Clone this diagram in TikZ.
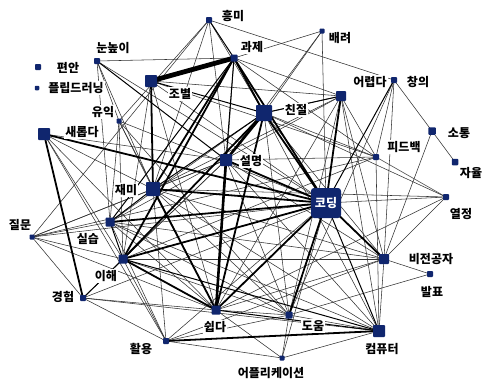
\documentclass[tikz,border=0pt]{standalone}
\usepackage{fontspec}
\newfontfamily\kr{Noto Sans CJK KR}
\begin{document}
\begin{tikzpicture}[x=1pt,y=-1pt,
  nd/.style={draw=none,fill=navy,rectangle,rounded corners=0.8pt,inner sep=0pt,minimum size=#1},
  lb/.style={font=\kr\bfseries\fontsize{12}{14}\selectfont,text=black,inner sep=1pt,fill=white},
  e0/.style={draw=black!80,line width=0.55pt},
  e1/.style={draw=black,line width=1pt},
  e2/.style={draw=black,line width=1.8pt},
  e3/.style={draw=black,line width=2.6pt},
  e4/.style={draw=black,line width=4.8pt}]
\definecolor{navy}{RGB}{16,38,110}
\useasboundingbox[fill=white] (0,0) rectangle (483,381);
% coordinates of nodes
\coordinate (hm) at (209,20);
\coordinate (gj) at (234,58);
\coordinate (br) at (322,31);
\coordinate (nn) at (97,61);
\coordinate (pa) at (38,67);
\coordinate (fl) at (37,88);
\coordinate (jb) at (151,81);
\coordinate (yi) at (119,121);
\coordinate (sr) at (44,134);
\coordinate (cj) at (264,113);
\coordinate (er) at (341,96);
\coordinate (cu) at (394,80);
\coordinate (st) at (432,131);
\coordinate (ja) at (455,162);
\coordinate (fb) at (376,157);
\coordinate (sm) at (226,160);
\coordinate (jm) at (153,189);
\coordinate (cd) at (326,203);
\coordinate (yj) at (446,197);
\coordinate (jq) at (32,237);
\coordinate (ss) at (110,222);
\coordinate (ih) at (123,259);
\coordinate (bj) at (384,259);
\coordinate (bp) at (430,274);
\coordinate (gh) at (83,298);
\coordinate (sd) at (216,310);
\coordinate (dw) at (289,315);
\coordinate (cp) at (379,331);
\coordinate (hy) at (166,341);
\coordinate (ap) at (282,358);
% thin edges
\foreach \a/\b in {hm/cu,hm/jq,hm/jm,hm/cj,hm/yi,hm/sm,gj/nn,gj/br,gj/er,gj/fb,gj/sd,br/cj,br/cd,br/sm,
  nn/cd,nn/jm,nn/ss,nn/yi,jb/cd,jb/sd,jb/er,jb/fb,jb/ih,yi/jm,yi/ss,yi/ih,yi/sd,yi/cd,yi/dw,
  sr/sm,sr/ih,sr/sd,sr/hy,sr/jm,cj/er,cj/fb,cj/bj,cj/cp,cj/ss,cj/yj,cj/dw,er/dw,er/fb,er/sd,er/jm,er/bj,er/ss,er/cp,
  cu/st,cu/fb,cu/bj,cu/dw,st/ja,st/bj,fb/jq,fb/sm,fb/yj,fb/cp,fb/ih,sm/jm,sm/dw,sm/gh,sm/ih,sm/cp,sm/bj,
  jm/dw,jm/cp,jm/jq,jm/bj,jm/hy,cd/yj,cd/ap,cd/hy,cd/gh,yj/bj,yj/jm,yj/sd,jq/ss,jq/ih,jq/sm,jq/sd,jq/cd,
  ss/sd,ss/cp,ss/dw,ss/bj,ss/hy,ih/bj,ih/hy,ih/dw,bj/sd,bj/hy,bj/cp,bp/dw,bp/bj,gh/sd,gh/hy,gh/cp,
  sd/dw,sd/ap,dw/cp,dw/ap,dw/hy,cp/ap,hy/ap,jq/gh}
  \draw[e0] (\a) -- (\b);
% medium edges
\foreach \a/\b in {hm/gj,gj/sm,gj/ss,nn/sm,cd/cp,cu/cd,ih/cp,ih/gh,sd/cp,jm/ss,ss/ih,jb/cj,cj/jm,er/cj}
  \draw[e1] (\a) -- (\b);
% thick edges
\foreach \a/\b in {gj/cj,gj/cd,gj/jm,gj/ih,cj/cd,cj/ih,cj/sd,er/cd,sm/cd,jm/cd,ss/cd,ih/cd,sr/cd,
  ih/sd,cd/dw,cd/bj,jb/jm,sr/gh,hy/cp,jm/sd,cd/sd}
  \draw[e2] (\a) -- (\b);
\foreach \a/\b in {cj/sm,sm/sd}
  \draw[e3] (\a) -- (\b);
\draw[e4] (gj) -- (jb);
% nodes
\node[nd=6] (n-hm) at (hm) {};
\node[nd=7] (n-gj) at (gj) {};
\node[nd=5] (n-br) at (br) {};
\node[nd=6] (n-nn) at (nn) {};
\node[nd=6] (n-pa) at (pa) {};
\node[nd=4.5] (n-fl) at (fl) {};
\node[nd=12] (n-jb) at (jb) {};
\node[nd=5] (n-yi) at (yi) {};
\node[nd=12] (n-sr) at (sr) {};
\node[nd=16] (n-cj) at (cj) {};
\node[nd=10] (n-er) at (er) {};
\node[nd=6] (n-cu) at (cu) {};
\node[nd=7.5] (n-st) at (st) {};
\node[nd=6.5] (n-ja) at (ja) {};
\node[nd=6] (n-fb) at (fb) {};
\node[nd=12] (n-sm) at (sm) {};
\node[nd=14] (n-jm) at (jm) {};
\node[nd=30,rounded corners=3pt] (n-cd) at (cd) {};
\node[nd=6] (n-yj) at (yj) {};
\node[nd=5] (n-jq) at (jq) {};
\node[nd=9] (n-ss) at (ss) {};
\node[nd=9] (n-ih) at (ih) {};
\node[nd=10] (n-bj) at (bj) {};
\node[nd=6] (n-bp) at (bp) {};
\node[nd=6] (n-gh) at (gh) {};
\node[nd=9] (n-sd) at (sd) {};
\node[nd=7] (n-dw) at (dw) {};
\node[nd=12] (n-cp) at (cp) {};
\node[nd=6] (n-hy) at (hy) {};
\node[nd=5] (n-ap) at (ap) {};
% labels
\node[lb] (l-hm) at (233,16) {흥미};
\node[lb] (l-gj) at (252,47) {과제};
\node[lb] (l-br) at (340,38) {배려};
\node[lb] (l-nn) at (113,48) {눈높이};
\node[lb] (l-pa) at (68,68) {편안};
\node[lb] (l-fl) at (76,88) {플립드러닝};
\node[lb] (l-jb) at (180,94) {조별};
\node[lb] (l-yi) at (103,112) {유익};
\node[lb] (l-sr) at (82,132) {새롭다};
\node[lb] (l-cj) at (296,110) {친절};
\node[lb] (l-er) at (370,82) {어렵다};
\node[lb] (l-cu) at (418,82) {창의};
\node[lb] (l-st) at (459,133) {소통};
\node[lb] (l-ja) at (471,173) {자율};
\node[lb] (l-fb) at (404,147) {피드백};
\node[lb] (l-sm) at (251,161) {설명};
\node[lb] (l-jm) at (126,190) {재미};
\node[font=\kr\bfseries\fontsize{12}{14}\selectfont,text=white] (l-cd) at (cd) {코딩};
\node[lb] (l-yj) at (461,214) {열정};
\node[lb] (l-jq) at (20,225) {질문};
\node[lb] (l-ss) at (88,239) {실습};
\node[lb] (l-ih) at (106,276) {이해};
\node[lb] (l-bj) at (431,259) {비전공자};
\node[lb] (l-bp) at (432,292) {발표};
\node[lb] (l-gh) at (63,297) {경험};
\node[lb] (l-sd) at (215,327) {쉽다};
\node[lb] (l-dw) at (313,326) {도움};
\node[lb] (l-cp) at (382,349) {컴퓨터};
\node[lb] (l-hy) at (141,349) {활용};
\node[lb] (l-ap) at (271,373) {어플리케이션};
\end{tikzpicture}
\end{document}
